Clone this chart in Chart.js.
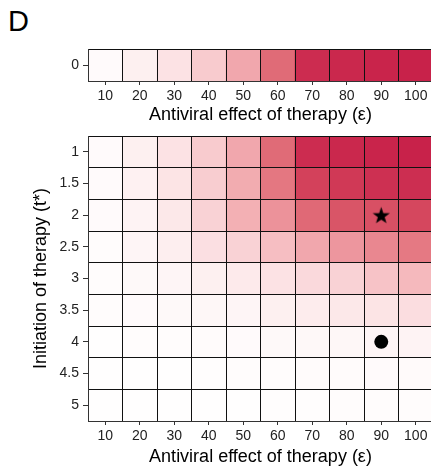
<!DOCTYPE html>
<html>
<head>
<meta charset="utf-8">
<script src="https://cdn.jsdelivr.net/npm/chart.js@4.4.0/dist/chart.umd.min.js"></script>
<style>
  html, body { margin: 0; padding: 0; background: #fff; }
  #wrap { position: relative; width: 431px; height: 469px; overflow: hidden; }
  #panel { position: absolute; left: 8px; top: 7px; font: 29px/29px "Liberation Sans", Arial, sans-serif; color: #000; }
  #top { position: absolute; left: 0; top: 0; }
  #main { position: absolute; left: 0; top: 128px; }
</style>
</head>
<body>
<div id="wrap">
  <div id="panel">D</div>
  <div id="top"><canvas id="topChart" width="433" height="128"></canvas></div>
  <div id="main"><canvas id="mainChart" width="433" height="341"></canvas></div>
</div>
<script>
// antiviral effect (%) on x, therapy start day on y
var effects = [10, 20, 30, 40, 50, 60, 70, 80, 90, 100];
var startTimes = [1, 1.5, 2, 2.5, 3, 3.5, 4, 4.5, 5];

// relative intensity of each cell (0 = white, 1 = full crimson)
var noDelay = [0.02, 0.08, 0.15, 0.25, 0.40, 0.67, 0.95, 0.97, 0.99, 1.00];
var delayed = [
  [0.02, 0.08, 0.15, 0.25, 0.40, 0.67, 0.95, 0.97, 0.99, 1.00],
  [0.02, 0.07, 0.14, 0.24, 0.38, 0.62, 0.85, 0.89, 0.93, 0.94],
  [0.02, 0.06, 0.12, 0.22, 0.36, 0.50, 0.68, 0.76, 0.78, 0.82],
  [0.01, 0.05, 0.09, 0.16, 0.22, 0.30, 0.40, 0.48, 0.55, 0.61],
  [0.01, 0.03, 0.05, 0.08, 0.11, 0.15, 0.19, 0.22, 0.28, 0.32],
  [0.01, 0.02, 0.03, 0.04, 0.05, 0.08, 0.10, 0.12, 0.14, 0.17],
  [0.00, 0.01, 0.01, 0.015, 0.02, 0.03, 0.035, 0.04, 0.05, 0.06],
  [0.00, 0.00, 0.00, 0.005, 0.01, 0.01, 0.015, 0.015, 0.02, 0.025],
  [0.00, 0.00, 0.00, 0.00, 0.00, 0.005, 0.005, 0.01, 0.01, 0.01]
];

var starCell = {effect: 90, start: 2};
var dotCell = {effect: 90, start: 4};

var xLabels = effects.map(String);

Chart.defaults.font.family = '"Liberation Sans", Arial, sans-serif';
Chart.defaults.color = '#222';

var stops = [
  [0, [255, 254, 254]], [0.1, [253, 236, 237]], [0.2, [250, 215, 218]],
  [0.35, [244, 178, 182]], [0.5, [236, 146, 154]], [0.65, [226, 112, 123]],
  [0.8, [214, 75, 96]], [1, [200, 34, 74]]
];
function shade(v) {
  for (var i = 1; i < stops.length; i++) {
    if (v <= stops[i][0]) {
      var a = stops[i - 1], b = stops[i];
      var f = (v - a[0]) / (b[0] - a[0]);
      var c = a[1].map(function (x, k) { return Math.round(x + (b[1][k] - x) * f); });
      return 'rgb(' + c.join(',') + ')';
    }
  }
  return 'rgb(200,34,74)';
}

function starImage(size) {
  var c = document.createElement('canvas');
  c.width = c.height = size;
  var g = c.getContext('2d');
  var R = size / 2 - 0.5, r = R * 0.4, cx = size / 2, cy = size / 2 + 0.8;
  g.beginPath();
  for (var k = 0; k < 10; k++) {
    var ang = -Math.PI / 2 + k * Math.PI / 5;
    var rr = k % 2 ? r : R;
    g.lineTo(cx + rr * Math.cos(ang), cy + rr * Math.sin(ang));
  }
  g.closePath();
  g.fillStyle = '#000';
  g.fill();
  return c;
}

function rowDataset(t, half, values) {
  return {
    type: 'bar',
    xAxisID: 'x',
    yAxisID: 'y',
    data: effects.map(function () { return [t - half, t + half]; }),
    backgroundColor: values.map(shade),
    borderWidth: 0,
    barPercentage: 1,
    categoryPercentage: 1,
    grouped: false,
    order: 1
  };
}

function yAxis(centers, half, title) {
  return {
    type: 'linear',
    reverse: true,
    min: centers[0] - half,
    max: centers[centers.length - 1] + half,
    afterBuildTicks: function (s) {
      var t = [];
      centers.forEach(function (c) { t.push({value: c - half}); t.push({value: c}); });
      t.push({value: centers[centers.length - 1] + half});
      s.ticks = t;
    },
    afterFit: function (s) { s.width = 88; s.paddingTop = 0; s.paddingBottom = 0; },
    grid: {
      z: 1,
      color: function (c) { return c.index % 2 === 0 ? '#111' : 'rgba(0,0,0,0)'; },
      tickColor: function (c) { return c.index % 2 === 0 ? 'rgba(0,0,0,0)' : '#333'; },
      tickLength: 5,
      lineWidth: 1
    },
    border: {z: 2, color: '#333'},
    ticks: {
      autoSkip: false,
      padding: 4,
      color: '#222',
      font: {size: 14},
      callback: function (v, i) { return i % 2 ? String(v) : ''; }
    },
    title: title ? {display: true, text: title, color: '#000', font: {size: 18}, padding: {top: 30, bottom: 0}} : {display: false}
  };
}

function xAxes(axisHeight, titlePad) {
  return {
    x: {
      type: 'category',
      offset: true,
      grid: {z: 1, offset: true, color: '#111', drawTicks: false},
      ticks: {display: false},
      border: {z: 2, color: '#333'}
    },
    xt: {
      type: 'category',
      position: 'bottom',
      offset: true,
      weight: 1,
      grid: {offset: false, drawOnChartArea: false, tickLength: 4, tickColor: '#333'},
      border: {display: false},
      ticks: {color: '#222', font: {size: 14}, padding: 3, autoSkip: false, maxRotation: 0},
      title: {display: true, text: 'Antiviral effect of therapy (ε)', color: '#000', font: {size: 18}, padding: {top: 0, bottom: titlePad}},
      afterFit: function (s) { s.height = axisHeight; s.paddingLeft = 0; s.paddingRight = 0; }
    }
  };
}

var common = {
  responsive: false,
  animation: false,
  events: [],
  plugins: {legend: {display: false}, tooltip: {enabled: false}}
};

var topScales = xAxes(47, 2);
topScales.y = yAxis([0], 0.25, null);
new Chart('topChart', {
  type: 'bar',
  data: {labels: xLabels, datasets: [rowDataset(0, 0.25, noDelay)]},
  options: Object.assign({}, common, {
    layout: {autoPadding: false, padding: {top: 49, left: 0, right: 0, bottom: 0}},
    scales: topScales
  })
});

var half = (startTimes[1] - startTimes[0]) / 2;
var sets = startTimes.map(function (t, i) { return rowDataset(t, half, delayed[i]); });
sets.push({
  type: 'scatter',
  xAxisID: 'x',
  yAxisID: 'y',
  data: [{x: String(starCell.effect), y: starCell.start}],
  pointStyle: starImage(19),
  pointRadius: 9,
  order: -1
});
sets.push({
  type: 'scatter',
  xAxisID: 'x',
  yAxisID: 'y',
  data: [{x: String(dotCell.effect), y: dotCell.start}],
  pointStyle: 'circle',
  pointRadius: 7,
  backgroundColor: '#000',
  borderWidth: 0,
  order: -1
});

var mainScales = xAxes(48, 1);
mainScales.y = yAxis(startTimes, half, 'Initiation of therapy (t*)');
new Chart('mainChart', {
  type: 'bar',
  data: {labels: xLabels, datasets: sets},
  options: Object.assign({}, common, {
    layout: {autoPadding: false, padding: {top: 8, left: 0, right: 0, bottom: 0}},
    scales: mainScales
  })
});
</script>
</body>
</html>
